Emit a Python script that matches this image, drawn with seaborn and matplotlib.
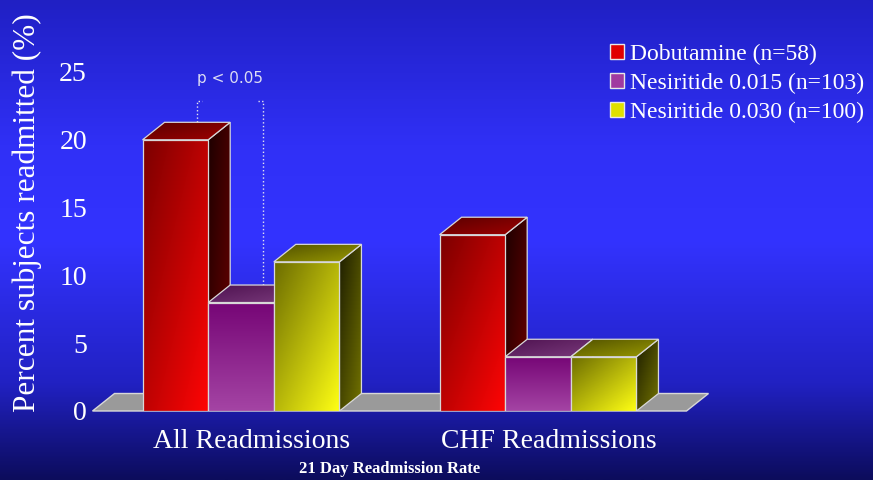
import numpy as np
import pandas as pd
import matplotlib
matplotlib.use("Agg")
import matplotlib.pyplot as plt
import seaborn as sns
from matplotlib.patches import Polygon, Patch, Rectangle
from matplotlib.colors import LinearSegmentedColormap
from matplotlib.transforms import ScaledTranslation

# data
categories = ["All Readmissions", "CHF Readmissions"]
groups = ["Dobutamine (n=58)", "Nesiritide 0.015 (n=103)", "Nesiritide 0.030 (n=100)"]
dobutamine = [20, 13]
nesiritide_015 = [8, 4]
nesiritide_030 = [11, 4]
yticks = [0, 5, 10, 15, 20, 25]

SERIF = ["Liberation Serif", "DejaVu Serif"]
EDGE = "#d8d8d8"

# (front dark, front light, top dark, top light, side dark, side light)
face_colors = [
    ("#7c0000", "#ff0505", "#5a0000", "#a00000", "#1c0000", "#6a0000"),
    ("#760676", "#a444a4", "#4e1250", "#7a3a7c", "#300030", "#600060"),
    ("#6c6c00", "#ffff14", "#505000", "#9a9a00", "#1c1c00", "#727200"),
]
legend_colors = ["#e00000", "#a03aa0", "#e0e000"]

df = pd.DataFrame({
    "category": categories * 3,
    "group": np.repeat(groups, len(categories)),
    "value": dobutamine + nesiritide_015 + nesiritide_030,
})

W, H = 873, 480
fig = plt.figure(figsize=(W / 100, H / 100), dpi=100)

# blue gradient background
bg = fig.add_axes([0, 0, 1, 1], zorder=-10)
bg_cmap = LinearSegmentedColormap.from_list(
    "bg", [(0, "#2020c4"), (0.3, "#3030f6"), (0.5, "#3333ff"),
           (0.8, "#2121c2"), (1, "#0c0c5c")])
bg.imshow(np.linspace(0, 1, 256).reshape(-1, 1), cmap=bg_cmap, aspect="auto",
          extent=(0, 1, 0, 1), origin="upper")
bg.axis("off")

ax = fig.add_axes([92.5 / W, 69 / H, 594 / W, 339 / H])
ax.set_facecolor("none")

sns.barplot(data=df, x="category", y="value", hue="group", order=categories,
            hue_order=groups, palette=legend_colors, saturation=1, width=0.663,
            errorbar=None, legend=False, ax=ax)
bars = sorted([p for p in ax.patches if isinstance(p, Rectangle)], key=lambda p: p.get_x())
bars = [b for b in bars if b.get_height() > 0]

xlim = (-0.5, 1.5)
ylim = (0, 25)
dx = 22 * (xlim[1] - xlim[0]) / 594
dy = 17.5 * (ylim[1] - ylim[0]) / 339


def shade(verts, c0, c1, z, mode="diag"):
    verts = np.asarray(verts, dtype=float)
    (x0, y0), (x1, y1) = verts.min(axis=0), verts.max(axis=0)
    yy, xx = np.mgrid[0:1:80j, 0:1:80j]
    val = (xx + yy) / 2 if mode == "diag" else yy
    cmap = LinearSegmentedColormap.from_list("f", [c0, c1])
    im = ax.imshow(val, cmap=cmap, extent=(x0, x1, y0, y1), origin="upper",
                   aspect="auto", vmin=0, vmax=1, zorder=z, interpolation="bilinear")
    clip = Polygon(verts, closed=True, transform=ax.transData)
    im.set_clip_path(clip)
    ax.add_patch(Polygon(verts, closed=True, facecolor="none", edgecolor=EDGE,
                         lw=0.9, zorder=z + 0.002))


# floor
ax.add_patch(Polygon([(xlim[0], 0), (xlim[1], 0), (xlim[1] + dx, dy), (xlim[0] + dx, dy)],
                     closed=True, facecolor="#9a9a9a", edgecolor=EDGE, lw=1,
                     zorder=1, clip_on=False))

tops = {}
for i, bar in enumerate(bars):
    k = i % 3
    fd, fl, td, tl, sd, sl = face_colors[k]
    z = 3 + i * 0.1
    x0, w, h = bar.get_x(), bar.get_width(), bar.get_height()
    x1 = x0 + w
    bar.set_zorder(z)
    bar.set_edgecolor("none")
    shade([(x1, 0), (x1 + dx, dy), (x1 + dx, h + dy), (x1, h)], sd, sl, z + 0.01)
    shade([(x0, h), (x1, h), (x1 + dx, h + dy), (x0 + dx, h + dy)], td, tl, z + 0.02)
    shade([(x0, 0), (x1, 0), (x1, h), (x0, h)], fd, fl, z + 0.03,
          mode="vert" if k == 1 else "diag")
    tops[i] = (x0 + w / 2 + dx, h + dy)

# significance bracket between Dobutamine and Nesiritide 0.015, all readmissions
(lx, ly), (rx, ry) = tops[0], tops[1]
btop = dobutamine[0] + dy + 1.6
tick = 0.017
ax.plot([lx, lx, lx + tick], [ly, btop, btop], ls=":", color="#e4e4ee", lw=1, zorder=2)
ax.plot([rx, rx, rx - tick], [ry, btop, btop], ls=":", color="#e4e4ee", lw=1, zorder=2)
ax.text((lx + rx) / 2, btop + 1.6, "p < 0.05", ha="center", va="center",
        fontsize=11, color="#dcdcf4", family="DejaVu Sans")

ax.set_xlim(*xlim)
ax.set_ylim(*ylim)
ax.set_yticks(yticks)
ax.set_yticklabels([str(t) for t in yticks])
for s in ax.spines.values():
    s.set_visible(False)
ax.tick_params(axis="both", length=0, colors="white", labelsize=20)
ax.tick_params(axis="y", pad=4)
ax.tick_params(axis="x", pad=13)
for lab in ax.get_yticklabels() + ax.get_xticklabels():
    lab.set_family(SERIF)
shift = ScaledTranslation(11 / 100, 0, fig.dpi_scale_trans)
for lab in ax.get_xticklabels():
    lab.set_transform(lab.get_transform() + shift)

ax.set_xlabel("")
ax.set_ylabel("Percent subjects readmitted (%)", color="white", fontsize=22.5,
              family=SERIF)
ax.yaxis.set_label_coords((42 - 92.5) / 594, (411 - 213) / 339)

fig.text(390 / W, 1 - 469 / H, "21 Day Readmission Rate", ha="center", va="center",
         fontsize=12, fontweight="bold", color="white", family=SERIF)

handles = [Patch(facecolor=c, edgecolor="#e8e8e8", lw=1) for c in legend_colors]
leg = fig.legend(handles, groups, loc="upper left", bbox_to_anchor=(610 / W, 1 - 44 / H),
                 frameon=False, handlelength=0.6, handleheight=0.6,
                 handletextpad=0.25, labelspacing=0.32, borderpad=0, borderaxespad=0,
                 labelcolor="white", prop={"family": SERIF, "size": 17})

fig.savefig("out.png", dpi=100)
